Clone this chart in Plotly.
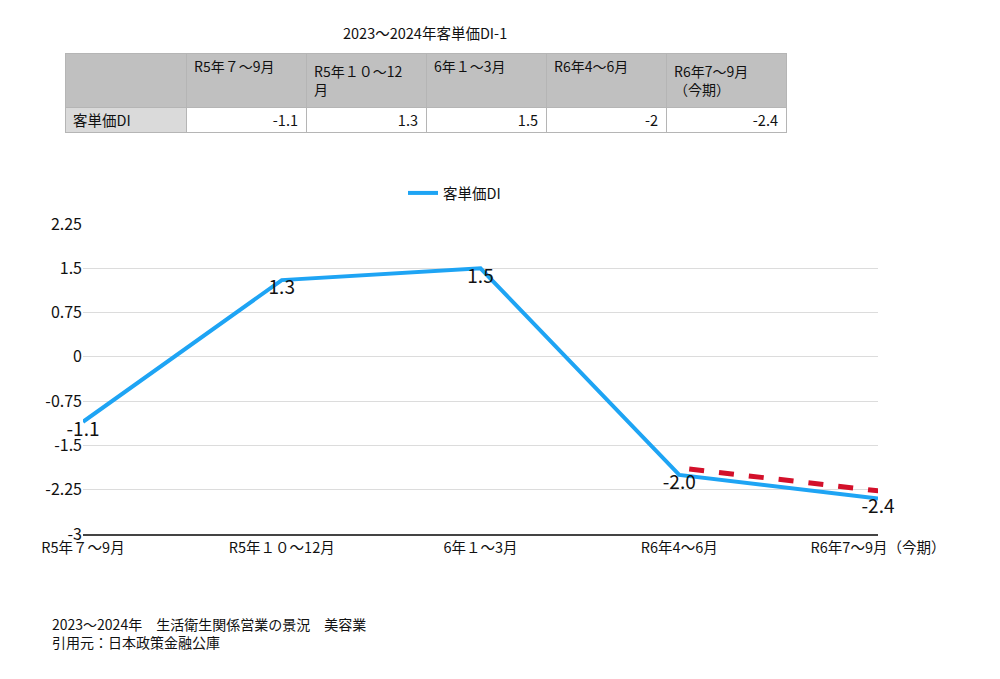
import plotly.graph_objects as go

categories = ["R5年７〜9月", "R5年１０〜12月", "6年１〜3月", "R6年4〜6月", "R6年7〜9月（今期）"]
values = [-1.1, 1.3, 1.5, -2.0, -2.4]
value_labels = ["-1.1", "1.3", "1.5", "-2.0", "-2.4"]
series_name = "客単価DI"

table_header = ["", "R5年７〜9月", "R5年１０〜12<br>月", "6年１〜3月", "R6年4〜6月", "R6年7〜9月<br>（今期）"]
table_row = ["客単価DI", "-1.1", "1.3", "1.5", "-2", "-2.4"]

trend_x = [3.05, 4.03]
trend_y = [-1.9, -2.28]

y_ticks = [2.25, 1.5, 0.75, 0, -0.75, -1.5, -2.25, -3]
y_ticktext = ["2.25", "1.5", "0.75", "0", "-0.75", "-1.5", "-2.25", "-3"]

FONT = "Noto Sans CJK JP"
W, H = 1000, 679

fig = go.Figure()

fig.add_trace(go.Table(
    domain=dict(x=[65 / W, 786 / W], y=[1 - 135 / H, 1 - 53 / H]),
    columnwidth=[121, 120, 120, 120, 120, 120],
    header=dict(values=table_header, fill_color="#c0c0c0", line_color="#b5b5b5",
                align="left", height=45,
                font=dict(family=FONT, size=14, color="#111")),
    cells=dict(values=[[v] for v in table_row],
               fill_color=[["#dadada"]] + [["white"]] * 5,
               line_color="#b5b5b5",
               align=["left"] + ["right"] * 5, height=25,
               font=dict(family=FONT, size=14.5, color="#111")),
))

fig.add_trace(go.Scatter(
    x=list(range(len(categories))), y=values, mode="lines+text", name=series_name,
    line=dict(color="#1ea4f4", width=4),
    text=value_labels, textposition="bottom center",
    textfont=dict(family=FONT, size=19, color="#111"),
    cliponaxis=False,
))

fig.add_trace(go.Scatter(
    x=trend_x, y=trend_y, mode="lines", showlegend=False,
    line=dict(color="#d3102a", width=5, dash="dash"), cliponaxis=False,
    hoverinfo="skip",
))

fig.update_layout(
    width=W, height=H, margin=dict(l=0, r=0, t=0, b=0, autoexpand=False),
    paper_bgcolor="white", plot_bgcolor="white",
    font=dict(family=FONT, size=14, color="#111"),
    showlegend=True,
    legend=dict(orientation="h", x=0.403, y=1 - 193 / H, xanchor="left", yanchor="middle",
                itemwidth=30,
                font=dict(family=FONT, size=14.5, color="#111")),
    xaxis=dict(domain=[83 / W, 878 / W], range=[0, 4], tickvals=list(range(len(categories))),
               ticktext=categories, showgrid=False, zeroline=False, automargin=False,
               showline=True, linecolor="#444", linewidth=1.5, ticks="",
               tickfont=dict(family=FONT, size=14.5, color="#111")),
    yaxis=dict(domain=[1 - 534 / H, 1 - 224 / H], range=[-3, 2.25], tickvals=y_ticks,
               ticktext=y_ticktext, showgrid=True, gridcolor="#dcdcdc", gridwidth=1,
               zeroline=False, showline=False, ticks="", automargin=False,
               tickfont=dict(family=FONT, size=16, color="#111")),
    annotations=[
        dict(text="2023〜2024年客単価DI-1", x=425 / W, y=1 - 20 / H, xref="paper", yref="paper",
             showarrow=False, font=dict(family=FONT, size=14.5, color="#111")),
        dict(text="2023〜2024年　生活衛生関係営業の景況　美容業<br>引用元：日本政策金融公庫",
             x=50 / W, y=1 - 612 / H, xref="paper", yref="paper", xanchor="left", yanchor="top",
             align="left", showarrow=False, font=dict(family=FONT, size=14, color="#111")),
    ],
)

fig.write_html("out.html")
